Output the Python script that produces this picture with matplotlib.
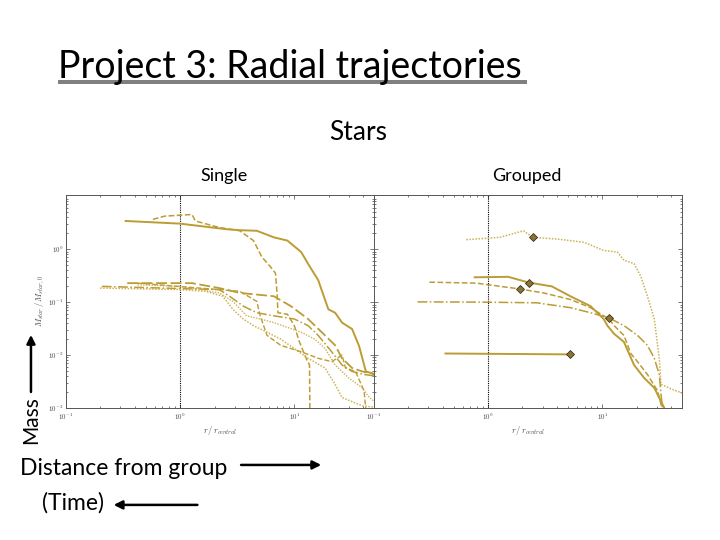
import matplotlib
matplotlib.use('Agg')
from matplotlib import pyplot as plt
from matplotlib.patches import Rectangle, FancyArrowPatch

# ---- data (r / r_central, M_star / M_star,0) ----
# Single
single_a_r = [0.333, 1.0, 2.53, 3.33, 4.70, 6.62, 8.71, 11.5, 13.2, 16.2, 19.9, 22.8, 26.2, 32.1, 36.9, 42.4, 52]
single_a_m = [3.40, 3.03, 2.38, 2.28, 2.22, 1.67, 1.45, 0.88, 0.53, 0.26, 0.073, 0.063, 0.041, 0.031, 0.015, 0.0049, 0.0043]
single_b_r = [0.577, 0.734, 1.27, 1.36, 2.20, 3.33, 4.39, 5.20, 6.18, 6.85, 7.09, 7.19, 8.71, 10.0, 11.1, 12.7, 13.6, 13.7]
single_b_m = [3.65, 4.20, 4.51, 3.40, 2.56, 2.22, 1.45, 0.711, 0.465, 0.349, 0.129, 0.063, 0.059, 0.036, 0.0177, 0.0087, 0.0065, 0.0009]
single_c_r = [0.344, 1.27, 2.20, 3.33, 6.62, 9.33, 13.2, 18.6, 22.8, 26.2, 32.1, 39.5, 52]
single_c_m = [0.228, 0.228, 0.184, 0.149, 0.129, 0.084, 0.048, 0.0235, 0.0153, 0.0087, 0.0057, 0.0049, 0.0043]
single_d_r = [0.199, 1.0, 1.67, 2.36, 2.90, 3.57, 4.39, 5.77, 7.60, 10.0, 13.2, 18.6, 22.8, 26.2, 39.5, 52]
single_d_m = [0.184, 0.172, 0.160, 0.129, 0.073, 0.048, 0.036, 0.027, 0.020, 0.0133, 0.0087, 0.0057, 0.0028, 0.00158, 0.0011, 0.00103]
single_e_r = [0.206, 2.20, 2.71, 3.57, 4.70, 6.62, 10.0, 13.2, 16.2, 21.3, 26.2, 32.1, 40.9, 52]
single_e_m = [0.198, 0.172, 0.129, 0.084, 0.063, 0.055, 0.048, 0.036, 0.0235, 0.0115, 0.0065, 0.0049, 0.0043, 0.0040]
single_f_r = [0.424, 1.0, 2.20, 2.90, 3.82, 5.03, 6.62, 11.5, 15.1, 18.6, 22.8, 30.0, 39.5, 45.4, 52]
single_f_m = [0.212, 0.198, 0.149, 0.103, 0.055, 0.048, 0.041, 0.027, 0.020, 0.0133, 0.0065, 0.0037, 0.0024, 0.00158, 0.00127]
single_g_r = [0.424, 3.33, 4.70, 5.03, 5.77, 7.60, 11.5, 16.2, 21.3, 26.2, 28.1, 34.4, 40.9, 42.4]
single_g_m = [0.228, 0.160, 0.103, 0.055, 0.0235, 0.0153, 0.0115, 0.0087, 0.0075, 0.0100, 0.0057, 0.0049, 0.0021, 0.0009]

# Grouped
group_a_r = [0.644, 1.27, 2.04, 2.46, 4.01, 6.89, 10.3, 13.6, 15.5, 19.0, 21.8, 24.9, 28.6, 31.6, 32.7, 40.1, 50.8]
group_a_m = [1.51, 1.67, 2.22, 1.67, 1.55, 1.35, 0.944, 0.88, 0.616, 0.535, 0.303, 0.129, 0.048, 0.0087, 0.0028, 0.0023, 0.0019]
group_b_r = [0.763, 1.50, 2.27, 3.62, 5.26, 7.89, 10.3, 11.1, 12.7, 15.5, 19.0, 23.3, 28.6, 35.0, 37.0]
group_b_m = [0.294, 0.300, 0.234, 0.198, 0.129, 0.084, 0.048, 0.036, 0.0252, 0.0177, 0.0065, 0.0037, 0.0024, 0.001, 0.0008]
group_c_r = [0.306, 0.789, 1.90, 3.06, 5.26, 7.89, 10.3, 11.5, 12.7, 15.5, 17.8, 20.4, 24.9, 30.6, 33.8]
group_c_m = [0.238, 0.228, 0.177, 0.149, 0.112, 0.0785, 0.055, 0.048, 0.036, 0.0235, 0.0107, 0.0075, 0.0043, 0.0021, 0.0009]
group_d_r = [0.241, 0.816, 2.67, 5.26, 7.89, 11.5, 15.5, 20.4, 24.9, 28.6, 31.6, 33.8]
group_d_m = [0.101, 0.100, 0.097, 0.0785, 0.063, 0.050, 0.036, 0.0235, 0.0153, 0.0087, 0.0043, 0.0009]
group_e_r = [0.423, 5.18]
group_e_m = [0.0107, 0.0103]

# where each grouped star joins its group
join_r = [2.46, 2.27, 1.90, 11.5, 5.18]
join_m = [1.67, 0.234, 0.177, 0.050, 0.0103]

GOLD = '#bb9c35'
LIGHT = '#cdb254'
DOT = (0, (1, 1))

plt.rcParams['mathtext.fontset'] = 'cm'


def setup(ax, ylabels):
    ax.set_xscale('log')
    ax.set_yscale('log')
    ax.set_xlim(0.1, 50)
    ax.set_ylim(1e-3, 10.5)
    ax.axvline(1.0, color='black', ls=DOT, lw=0.8)
    ax.tick_params(which='both', direction='in', top=True, right=True,
                   labelsize=5, width=0.5, colors='#444444', pad=2)
    ax.tick_params(which='major', length=3)
    ax.tick_params(which='minor', length=1.5)
    ax.tick_params(axis='x', pad=3)
    ax.set_xticks([0.1, 1, 10])
    ax.set_xticklabels([r'$10^{-1}$', r'$10^{0}$', r'$10^{1}$'])
    ax.set_yticks([1e-3, 1e-2, 1e-1, 1])
    if ylabels:
        ax.set_yticklabels([r'$10^{-3}$', r'$10^{-2}$', r'$10^{-1}$', r'$10^{0}$'])
        ax.set_ylabel(r'$M_{star}\,/\,M_{star,0}$', fontsize=6, color='#444444', labelpad=1)
    else:
        ax.set_yticklabels([])
    ax.set_xlabel(r'$r\,/\,r_{central}$', fontsize=6, color='#444444', labelpad=1)
    for s in ax.spines.values():
        s.set_linewidth(0.7)
        s.set_color('#555555')


fig = plt.figure(figsize=(7.2, 5.4), dpi=100)
ax1 = fig.add_axes([0.0917, 0.2444, 0.4278, 0.3944])
ax2 = fig.add_axes([0.5194, 0.2444, 0.4278, 0.3944])

setup(ax1, True)
ax1.plot(single_a_r, single_a_m, color=GOLD, ls='-', lw=1.4)
ax1.plot(single_b_r, single_b_m, color=GOLD, ls='--', lw=1.1)
ax1.plot(single_c_r, single_c_m, color=GOLD, ls=(0, (6, 2)), lw=1.3)
ax1.plot(single_d_r, single_d_m, color=LIGHT, ls=DOT, lw=1.1)
ax1.plot(single_e_r, single_e_m, color=GOLD, ls='-.', lw=1.1)
ax1.plot(single_f_r, single_f_m, color=LIGHT, ls=DOT, lw=1.0)
ax1.plot(single_g_r, single_g_m, color=GOLD, ls='--', lw=1.0)

setup(ax2, False)
ax2.plot(group_a_r, group_a_m, color=LIGHT, ls=DOT, lw=1.1)
ax2.plot(group_b_r, group_b_m, color=GOLD, ls='-', lw=1.4)
ax2.plot(group_c_r, group_c_m, color=GOLD, ls='--', lw=1.1)
ax2.plot(group_d_r, group_d_m, color=GOLD, ls='-.', lw=1.1)
ax2.plot(group_e_r, group_e_m, color=GOLD, ls='-', lw=1.4)
ax2.plot(join_r, join_m, ls='none', marker='D', ms=4.5, mfc='#8a7536',
         mec='#3d3418', mew=0.6, zorder=5)

# ---- slide text ----
slide = 'Lato'
fig.text(0.0806, 0.856, 'Project 3: Radial trajectories', fontsize=27,
         family=slide, va='baseline', ha='left')
fig.add_artist(Rectangle((0.0806, 0.8444), 0.651, 0.0074, transform=fig.transFigure,
                         color='#808080', lw=0))
fig.text(0.497, 0.754, 'Stars', fontsize=19, family=slide, ha='center', va='center')
fig.text(0.311, 0.674, 'Single', fontsize=13, family=slide, ha='center', va='center')
fig.text(0.732, 0.674, 'Grouped', fontsize=13, family=slide, ha='center', va='center')
fig.text(0.043, 0.222, 'Mass', fontsize=15, family=slide, rotation=90,
         ha='center', va='center')
fig.text(0.028, 0.133, 'Distance from group', fontsize=16.5, family=slide,
         ha='left', va='center')
fig.text(0.058, 0.069, '(Time)', fontsize=16.5, family=slide, ha='left', va='center')


def arrow(p0, p1):
    fig.add_artist(FancyArrowPatch(p0, p1, transform=fig.transFigure,
                                   arrowstyle='-|>,head_length=5,head_width=2.5',
                                   color='black', lw=1.8))


arrow((0.043, 0.269), (0.043, 0.385))
arrow((0.331, 0.139), (0.450, 0.139))
arrow((0.278, 0.065), (0.154, 0.065))

plt.savefig('out.png', dpi=100)
